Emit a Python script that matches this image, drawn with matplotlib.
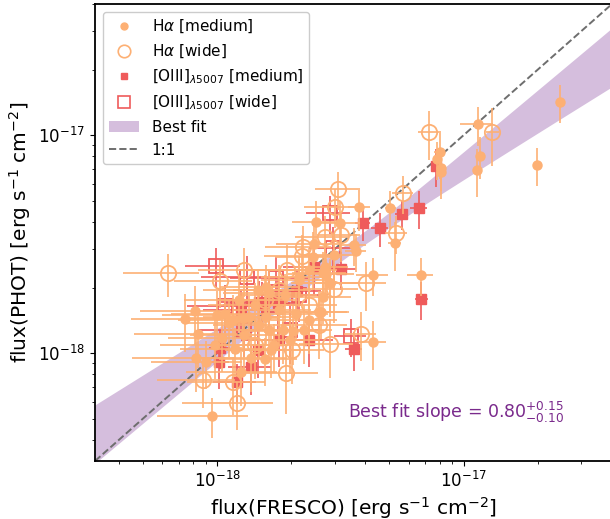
import numpy as np
import matplotlib
matplotlib.use("Agg")
import matplotlib.pyplot as plt
from matplotlib.lines import Line2D
from matplotlib.patches import Patch

FLUX_UNIT = 1e-18

# ---- H-alpha, medium band (x=FRESCO, y=PHOT, in 1e-18; relative errors)
ha_med_x = [24.5, 11.4, 11.7, 19.9, 11.3, 7.99, 7.83, 8.12, 8.07, 5.05, 3.78, 2.52, 3.16, 2.47, 5.27,
            3.60, 3.67, 2.45, 2.98, 2.73, 4.31, 6.72, 2.76, 4.31, 0.955, 0.814, 0.743, 0.835, 2.63, 2.68,
            2.88, 1.65, 1.57, 1.37, 1.25, 0.82, 0.90, 1.00, 1.08, 1.12, 1.05, 1.27, 1.35, 1.58, 1.46,
            1.58, 1.63, 2.16, 2.68, 2.86, 2.60, 2.37, 2.09, 2.03, 1.85, 1.63, 1.16, 2.16, 2.37, 1.23,
            1.42, 1.79, 1.88, 1.48, 1.29, 1.97, 1.71, 2.26, 1.18, 0.98]
ha_med_y = [14.2, 11.2, 8.05, 7.3, 6.92, 8.4, 7.78, 7.1, 6.8, 4.63, 4.67, 4.01, 3.94, 3.16, 3.19,
            3.13, 2.95, 2.77, 2.82, 2.49, 2.28, 2.28, 2.31, 1.12, 0.515, 1.56, 1.44, 1.22, 1.55, 1.81,
            2.09, 1.03, 0.94, 0.95, 0.82, 0.95, 0.91, 1.49, 1.52, 1.37, 1.17, 1.45, 1.47, 1.47, 1.95,
            2.02, 1.88, 2.24, 2.33, 2.09, 1.55, 1.42, 1.52, 1.26, 1.28, 1.28, 1.42, 2.17, 2.42, 1.76,
            1.67, 1.58, 1.85, 1.35, 1.21, 1.15, 1.09, 1.28, 1.04, 1.09]
ha_med_ex = [0.02, 0.15, 0.04, 0.02, 0.03, 0.05, 0.04, 0.04, 0.03, 0.05, 0.10, 0.20, 0.20, 0.30, 0.06,
             0.12, 0.10, 0.30, 0.25, 0.25, 0.15, 0.12, 0.30, 0.12, 0.40, 0.40, 0.40, 0.45, 0.30, 0.30,
             0.30, 0.35, 0.35, 0.40, 0.40, 0.45, 0.40, 0.40, 0.40, 0.35, 0.40, 0.40, 0.35, 0.35, 0.40,
             0.35, 0.35, 0.30, 0.25, 0.30, 0.30, 0.30, 0.35, 0.35, 0.35, 0.35, 0.40, 0.30, 0.30, 0.40,
             0.35, 0.35, 0.35, 0.35, 0.40, 0.30, 0.35, 0.30, 0.40, 0.40]
ha_med_ey = [0.20, 0.20, 0.22, 0.20, 0.25, 0.25, 0.20, 0.22, 0.25, 0.20, 0.22, 0.25, 0.25, 0.25, 0.25,
             0.20, 0.20, 0.30, 0.25, 0.30, 0.20, 0.20, 0.25, 0.25, 0.21, 0.30, 0.30, 0.30, 0.25, 0.25,
             0.25, 0.25, 0.25, 0.30, 0.30, 0.30, 0.25, 0.30, 0.30, 0.30, 0.30, 0.30, 0.25, 0.25, 0.25,
             0.25, 0.30, 0.25, 0.25, 0.30, 0.25, 0.30, 0.25, 0.30, 0.30, 0.25, 0.30, 0.25, 0.25, 0.30,
             0.25, 0.30, 0.25, 0.30, 0.30, 0.30, 0.25, 0.30, 0.25, 0.30]

# ---- H-alpha, wide band
ha_wide_x = [0.63, 1.03, 1.29, 1.93, 3.11, 3.00, 2.23, 2.21, 2.75, 3.17, 7.25, 13.1, 5.67, 5.34,
             4.02, 2.98, 3.85, 2.86, 2.01, 1.91, 1.20, 0.88, 1.16, 1.56, 2.37, 2.60, 1.42, 1.79]
ha_wide_y = [2.33, 2.15, 2.42, 2.42, 5.66, 4.70, 3.08, 2.79, 3.42, 3.48, 10.3, 10.3, 5.41, 3.55,
             2.09, 1.96, 1.23, 1.10, 1.03, 0.81, 0.59, 0.75, 0.74, 1.76, 1.67, 1.35, 1.09, 1.95]
ha_wide_ex = [0.34, 0.35, 0.35, 0.35, 0.20, 0.25, 0.30, 0.30, 0.25, 0.20, 0.10, 0.06, 0.10, 0.10,
              0.20, 0.25, 0.15, 0.25, 0.35, 0.35, 0.40, 0.35, 0.35, 0.35, 0.30, 0.30, 0.35, 0.35]
ha_wide_ey = [0.22, 0.25, 0.25, 0.30, 0.20, 0.20, 0.25, 0.25, 0.25, 0.25, 0.25, 0.30, 0.20, 0.20,
              0.25, 0.30, 0.25, 0.30, 0.30, 0.35, 0.25, 0.25, 0.30, 0.30, 0.30, 0.30, 0.30, 0.30]

# ---- [OIII] 5007, medium band
o3_med_x = [3.91, 4.58, 5.63, 6.58, 7.75, 3.18, 6.75, 3.60, 1.03, 1.02, 1.20, 1.38, 1.47, 1.78,
            2.48, 2.11, 1.52, 1.25, 2.37, 1.76, 1.48]
o3_med_y = [3.97, 3.74, 4.34, 4.62, 7.22, 2.43, 1.77, 1.04, 1.06, 0.91, 0.74, 0.86, 1.03, 1.15,
            2.49, 1.93, 1.69, 1.58, 1.15, 1.69, 1.72]
o3_med_ex = [0.07, 0.08, 0.06, 0.08, 0.04, 0.15, 0.06, 0.08, 0.10, 0.10, 0.20, 0.20, 0.25, 0.30,
             0.25, 0.25, 0.30, 0.30, 0.25, 0.25, 0.30]
o3_med_ey = [0.18, 0.18, 0.15, 0.20, 0.20, 0.20, 0.20, 0.20, 0.20, 0.25, 0.20, 0.25, 0.25, 0.25,
             0.25, 0.25, 0.25, 0.25, 0.25, 0.30, 0.25]

# ---- [OIII] 5007, wide band
o3_wide_x = [0.99, 1.32, 1.73, 2.88, 2.96, 3.50, 1.08, 1.63, 2.16, 1.97, 1.29]
o3_wide_y = [2.52, 2.24, 2.21, 4.38, 3.03, 1.20, 1.65, 1.67, 1.85, 1.28, 1.28]
o3_wide_ex = [0.25, 0.35, 0.35, 0.20, 0.20, 0.15, 0.30, 0.35, 0.30, 0.30, 0.35]
o3_wide_ey = [0.20, 0.25, 0.25, 0.20, 0.25, 0.20, 0.25, 0.25, 0.25, 0.30, 0.25]

# ---- best fit (log-log) parameters
fit_slope = 0.80
fit_slope_hi = 0.15
fit_slope_lo = 0.10
fit_pivot_logx = -17.45
fit_pivot_logy = -17.51
fit_norm_err = 0.03

AX_LIM = (3.2e-19, 4e-17)

C_HA = "#fdb074"
C_O3 = "#ef5b5b"
C_FIT = "#d5bedd"
C_TXT = "#7a2a8c"

fig = plt.figure(figsize=(6.10, 5.19), dpi=100)
ax = fig.add_axes([95 / 610, 1 - 461 / 519, 517 / 610, 457 / 519])
ax.set_xscale("log")
ax.set_yscale("log")

# best-fit band
lx = np.linspace(np.log10(AX_LIM[0]), np.log10(AX_LIM[1]), 300)
dx = lx - fit_pivot_logx
e_up = np.where(dx > 0, fit_slope_hi, fit_slope_lo)
e_dn = np.where(dx > 0, fit_slope_lo, fit_slope_hi)
mid = fit_pivot_logy + fit_slope * dx
upper = mid + np.sqrt(fit_norm_err**2 + (e_up * dx) ** 2)
lower = mid - np.sqrt(fit_norm_err**2 + (e_dn * dx) ** 2)
ax.fill_between(10**lx, 10**lower, 10**upper, color=C_FIT, lw=0, zorder=1)

# 1:1 line
ax.plot(AX_LIM, AX_LIM, ls="--", color="#6e6e6e", lw=1.4, zorder=2)


def draw(xs, ys, exs, eys, color, marker, ms, filled, z):
    x = np.array(xs) * FLUX_UNIT
    y = np.array(ys) * FLUX_UNIT
    xe = x * np.array(exs)
    ye = y * np.array(eys)
    ax.errorbar(x, y, xerr=xe, yerr=ye, fmt="none", ecolor=color, elinewidth=1.2,
                capsize=0, zorder=z)
    if filled:
        ax.plot(x, y, ls="none", marker=marker, ms=ms, mfc=color, mec=color, zorder=z + 0.5)
    else:
        ax.plot(x, y, ls="none", marker=marker, ms=ms, mfc="none", mec=color, mew=1.3,
                zorder=z + 0.5)


draw(o3_wide_x, o3_wide_y, o3_wide_ex, o3_wide_ey, C_O3, "s", 10.5, False, 3)
draw(o3_med_x, o3_med_y, o3_med_ex, o3_med_ey, C_O3, "s", 6.5, True, 4)
draw(ha_wide_x, ha_wide_y, ha_wide_ex, ha_wide_ey, C_HA, "o", 11, False, 5)
draw(ha_med_x, ha_med_y, ha_med_ex, ha_med_ey, C_HA, "o", 6.5, True, 6)

ax.set_xlim(*AX_LIM)
ax.set_ylim(*AX_LIM)

handles = [
    Line2D([], [], ls="none", marker="o", ms=5, mfc=C_HA, mec=C_HA),
    Line2D([], [], ls="none", marker="o", ms=9, mfc="none", mec=C_HA, mew=1.2),
    Line2D([], [], ls="none", marker="s", ms=5, mfc=C_O3, mec=C_O3),
    Line2D([], [], ls="none", marker="s", ms=9, mfc="none", mec=C_O3, mew=1.2),
    Patch(facecolor=C_FIT, edgecolor="none"),
    Line2D([], [], ls="--", color="#6e6e6e", lw=1.4),
]
labels = [r"H$\alpha$ [medium]", r"H$\alpha$ [wide]",
          r"[OIII]$_{\lambda5007}$ [medium]", r"[OIII]$_{\lambda5007}$ [wide]",
          "Best fit", "1:1"]
ax.legend(handles, labels, loc="upper left", fontsize=11, framealpha=1)

ax.text(0.49, 0.094, r"Best fit slope = $0.80^{+0.15}_{-0.10}$", transform=ax.transAxes,
        color=C_TXT, fontsize=12.5, ha="left", va="baseline")

ax.set_xlabel(r"flux(FRESCO) [erg s$^{-1}$ cm$^{-2}$]", fontsize=14.5, labelpad=3)
ax.set_ylabel(r"flux(PHOT) [erg s$^{-1}$ cm$^{-2}$]", fontsize=14.5)
ax.tick_params(axis="both", which="major", labelsize=12)
for s in ax.spines.values():
    s.set_linewidth(1.3)

fig.savefig("out.png", dpi=100)
